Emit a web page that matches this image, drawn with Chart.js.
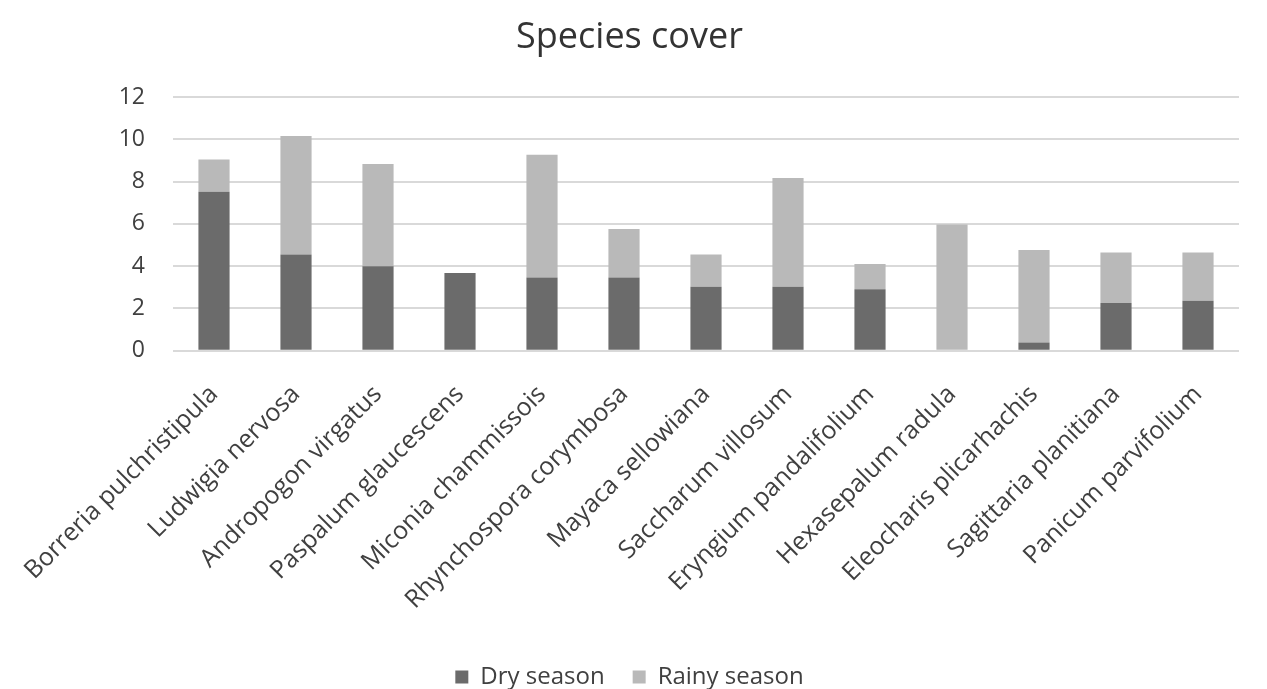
<!DOCTYPE html>
<html>
<head>
<meta charset="utf-8">
<script src="https://cdn.jsdelivr.net/npm/chart.js@4"></script>
<style>
  html, body { margin: 0; padding: 0; background: #fff; }
  #wrap { width: 1267px; height: 689px; }
</style>
</head>
<body>
<div id="wrap"><canvas id="grafico"></canvas></div>
<script>
// especies e valores
const especies = [
  'Borreria pulchristipula', 'Ludwigia nervosa', 'Andropogon virgatus',
  'Paspalum glaucescens', 'Miconia chammissois', 'Rhynchospora corymbosa',
  'Mayaca sellowiana', 'Saccharum villosum', 'Eryngium pandalifolium',
  'Hexasepalum radula', 'Eleocharis plicarhachis', 'Sagittaria planitiana',
  'Panicum parvifolium'
];
const secaDados = [7.52, 4.55, 4.0, 3.68, 3.46, 3.46, 3.02, 3.02, 2.91, 0, 0.38, 2.26, 2.36];
const chuvaDados = [1.53, 5.61, 4.84, 0, 5.82, 2.3, 1.53, 5.16, 1.19, 5.97, 4.38, 2.39, 2.29];
const yTicks = [0, 2, 4, 6, 8, 10, 12];

const fonte = "'Open Sans', 'Liberation Sans', sans-serif";
const corTexto = '#404040';

const config = {
  type: 'bar',
  data: {
    labels: especies,
    datasets: [
      { label: 'Dry season', data: secaDados, backgroundColor: '#6b6b6b', barPercentage: 0.76, categoryPercentage: 0.5 },
      { label: 'Rainy season', data: chuvaDados, backgroundColor: '#b9b9b9', barPercentage: 0.76, categoryPercentage: 0.5 }
    ]
  },
  options: {
    responsive: true,
    maintainAspectRatio: false,
    animation: false,
    layout: { padding: { left: 20, right: 28, top: 4, bottom: -10 } },
    plugins: {
      title: {
        display: true,
        text: 'Species cover',
        color: '#333333',
        font: { family: fonte, size: 36, weight: 'normal' },
        padding: { top: 12, bottom: 38 }
      },
      legend: {
        position: 'bottom',
        labels: {
          color: corTexto,
          font: { family: fonte, size: 24 },
          boxWidth: 13,
          boxHeight: 13,
          padding: 28
        }
      },
      tooltip: { enabled: false }
    },
    scales: {
      x: {
        stacked: true,
        grid: { display: false },
        border: { display: false },
        afterFit: (eixo) => { eixo.height += 1; },
        ticks: {
          color: corTexto,
          font: { family: fonte, size: 25 },
          minRotation: 45,
          maxRotation: 45,
          padding: 21
        }
      },
      y: {
        stacked: true,
        min: 0,
        max: 12,
        afterBuildTicks: (eixo) => { eixo.ticks = yTicks.map(v => ({ value: v })); },
        afterFit: (eixo) => { eixo.width = 153; },
        grid: { color: '#d9d9d9', lineWidth: 2, drawTicks: false },
        border: { display: false },
        ticks: {
          color: corTexto,
          font: { family: fonte, size: 23 },
          padding: 28
        }
      }
    }
  }
};

new Chart(document.getElementById('grafico'), config);
</script>
</body>
</html>
